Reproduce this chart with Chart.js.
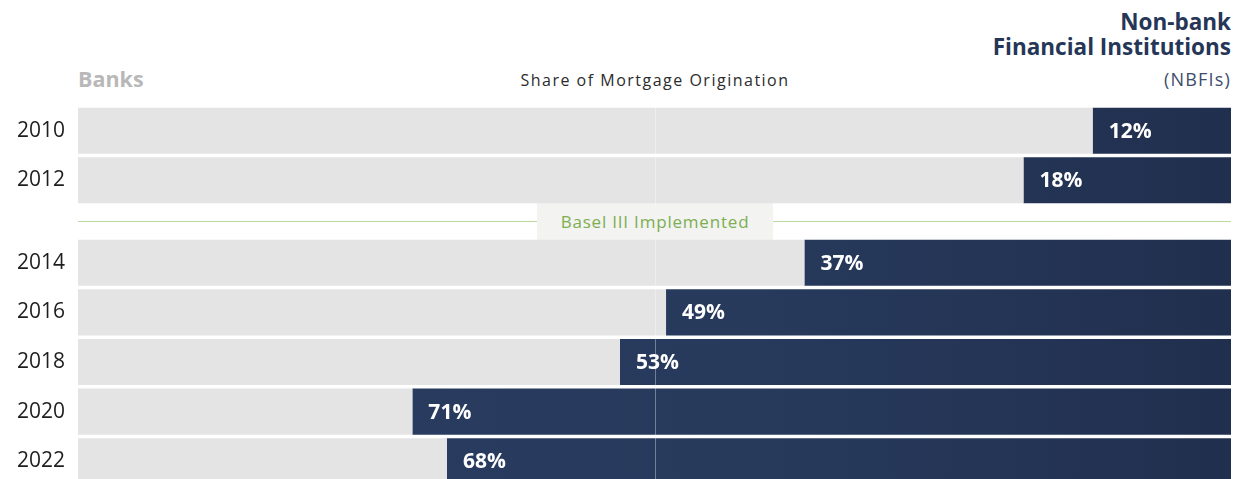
<!DOCTYPE html>
<html>
<head>
<meta charset="utf-8">
<script src="https://cdn.jsdelivr.net/npm/chart.js@4/dist/chart.umd.min.js"></script>
<style>
  html, body { margin: 0; padding: 0; background: #fff; overflow: hidden; }
  body { width: 1239px; height: 479px; position: relative; font-family: "Open Sans", sans-serif; }
  .abs { position: absolute; white-space: nowrap; }
  #nb1 { right: 8px; top: 6px; font-size: 22.5px; font-weight: 700; color: #253657; }
  #nb2 { right: 8px; top: 31px; font-size: 22.5px; font-weight: 700; color: #253657; }
  #nb3 { right: 8px; top: 67px; font-size: 18px; letter-spacing: 1.2px; color: #3d4c6b; }
  #banks { left: 78px; top: 64px; font-size: 21.5px; font-weight: 700; color: #b8b8b8; }
  #share { left: 0; width: 1310px; text-align: center; top: 69px; font-size: 16px; color: #2b2b2b; letter-spacing: 1.5px; }
  #baselLine { left: 78px; top: 221px; width: 1153px; height: 1px; background: #bcd8a0; }
  #baselBox { left: 537px; top: 203px; width: 236px; height: 37px; background: #f3f3f1; color: #7cae52;
              font-size: 17px; letter-spacing: 0.8px; text-align: center; line-height: 37px; }
  .box { position: absolute; left: 0; width: 1239px; }
  #topBox { top: 106px; height: 99px; }
  #bottomBox { top: 238px; height: 248px; }
</style>
</head>
<body>
<div class="abs" id="nb1">Non-bank</div>
<div class="abs" id="nb2">Financial Institutions</div>
<div class="abs" id="nb3">(NBFIs)</div>
<div class="abs" id="banks">Banks</div>
<div class="abs" id="share">Share of Mortgage Origination</div>
<div class="abs" id="baselLine"></div>
<div class="abs" id="baselBox">Basel III Implemented</div>
<div class="box" id="topBox"><canvas id="top"></canvas></div>
<div class="box" id="bottomBox"><canvas id="bottom"></canvas></div>
<script>
// NBFI share of mortgage origination, % (banks = the rest)
const years = ['2010', '2012', '2014', '2016', '2018', '2020', '2022'];
const nbfiShare = [12, 18, 37, 49, 53, 71, 68];
const baselIndex = 2; // Basel III marker sits before this year

const navy = '#273a5e';
const font = '"Open Sans", sans-serif';

const barLabels = {
  id: 'barLabels',
  afterDatasetsDraw(chart) {
    const ctx = chart.ctx;
    const meta = chart.getDatasetMeta(1);
    ctx.save();
    ctx.fillStyle = '#ffffff';
    ctx.font = 'bold 21px ' + font;
    ctx.textBaseline = 'middle';
    meta.data.forEach((bar, i) => {
      ctx.fillText(chart.data.datasets[1].data[i] + '%', bar.base + 16, bar.y + 1);
    });
    // faint 50% line over the bars
    const x = Math.round(chart.scales.x.getPixelForValue(50)) + 0.5;
    ctx.strokeStyle = 'rgba(255,255,255,0.35)';
    ctx.lineWidth = 1;
    ctx.beginPath();
    ctx.moveTo(x, chart.chartArea.top);
    ctx.lineTo(x, chart.chartArea.bottom);
    ctx.stroke();
    ctx.restore();
  }
};

function makeChart(id, labels, nbfi) {
  const banks = nbfi.map(v => 100 - v);
  new Chart(document.getElementById(id), {
    type: 'bar',
    data: {
      labels: labels,
      datasets: [{
        label: 'Banks',
        data: banks,
        backgroundColor: '#e4e4e4'
      }, {
        label: 'NBFIs',
        data: nbfi,
        backgroundColor: (c) => {
          const a = c.chart.chartArea;
          if (!a) return navy;
          const g = c.chart.ctx.createLinearGradient(a.left, 0, a.right, 0);
          g.addColorStop(0, '#2a3d62');
          g.addColorStop(0.6, '#273a5c');
          g.addColorStop(1, '#212f4e');
          return g;
        }
      }]
    },
    options: {
      indexAxis: 'y',
      responsive: true,
      maintainAspectRatio: false,
      animation: false,
      layout: { padding: { left: 0, right: 8, top: 0, bottom: 0 } },
      datasets: { bar: { barPercentage: 0.93, categoryPercentage: 1, borderWidth: 0 } },
      plugins: { legend: { display: false }, tooltip: { enabled: false } },
      scales: {
        x: { stacked: true, min: 0, max: 100, display: false },
        y: {
          stacked: true,
          grid: { display: false },
          border: { display: false },
          afterFit: (s) => {
            s.width = 78;
            s.paddingTop = 0;
            s.paddingBottom = 0;
          },
          ticks: {
            padding: 5,
            color: '#1e1e1e',
            font: { family: font, size: 21 }
          }
        }
      }
    },
    plugins: [barLabels]
  });
}

makeChart('top', years.slice(0, baselIndex), nbfiShare.slice(0, baselIndex));
makeChart('bottom', years.slice(baselIndex), nbfiShare.slice(baselIndex));
</script>
</body>
</html>
